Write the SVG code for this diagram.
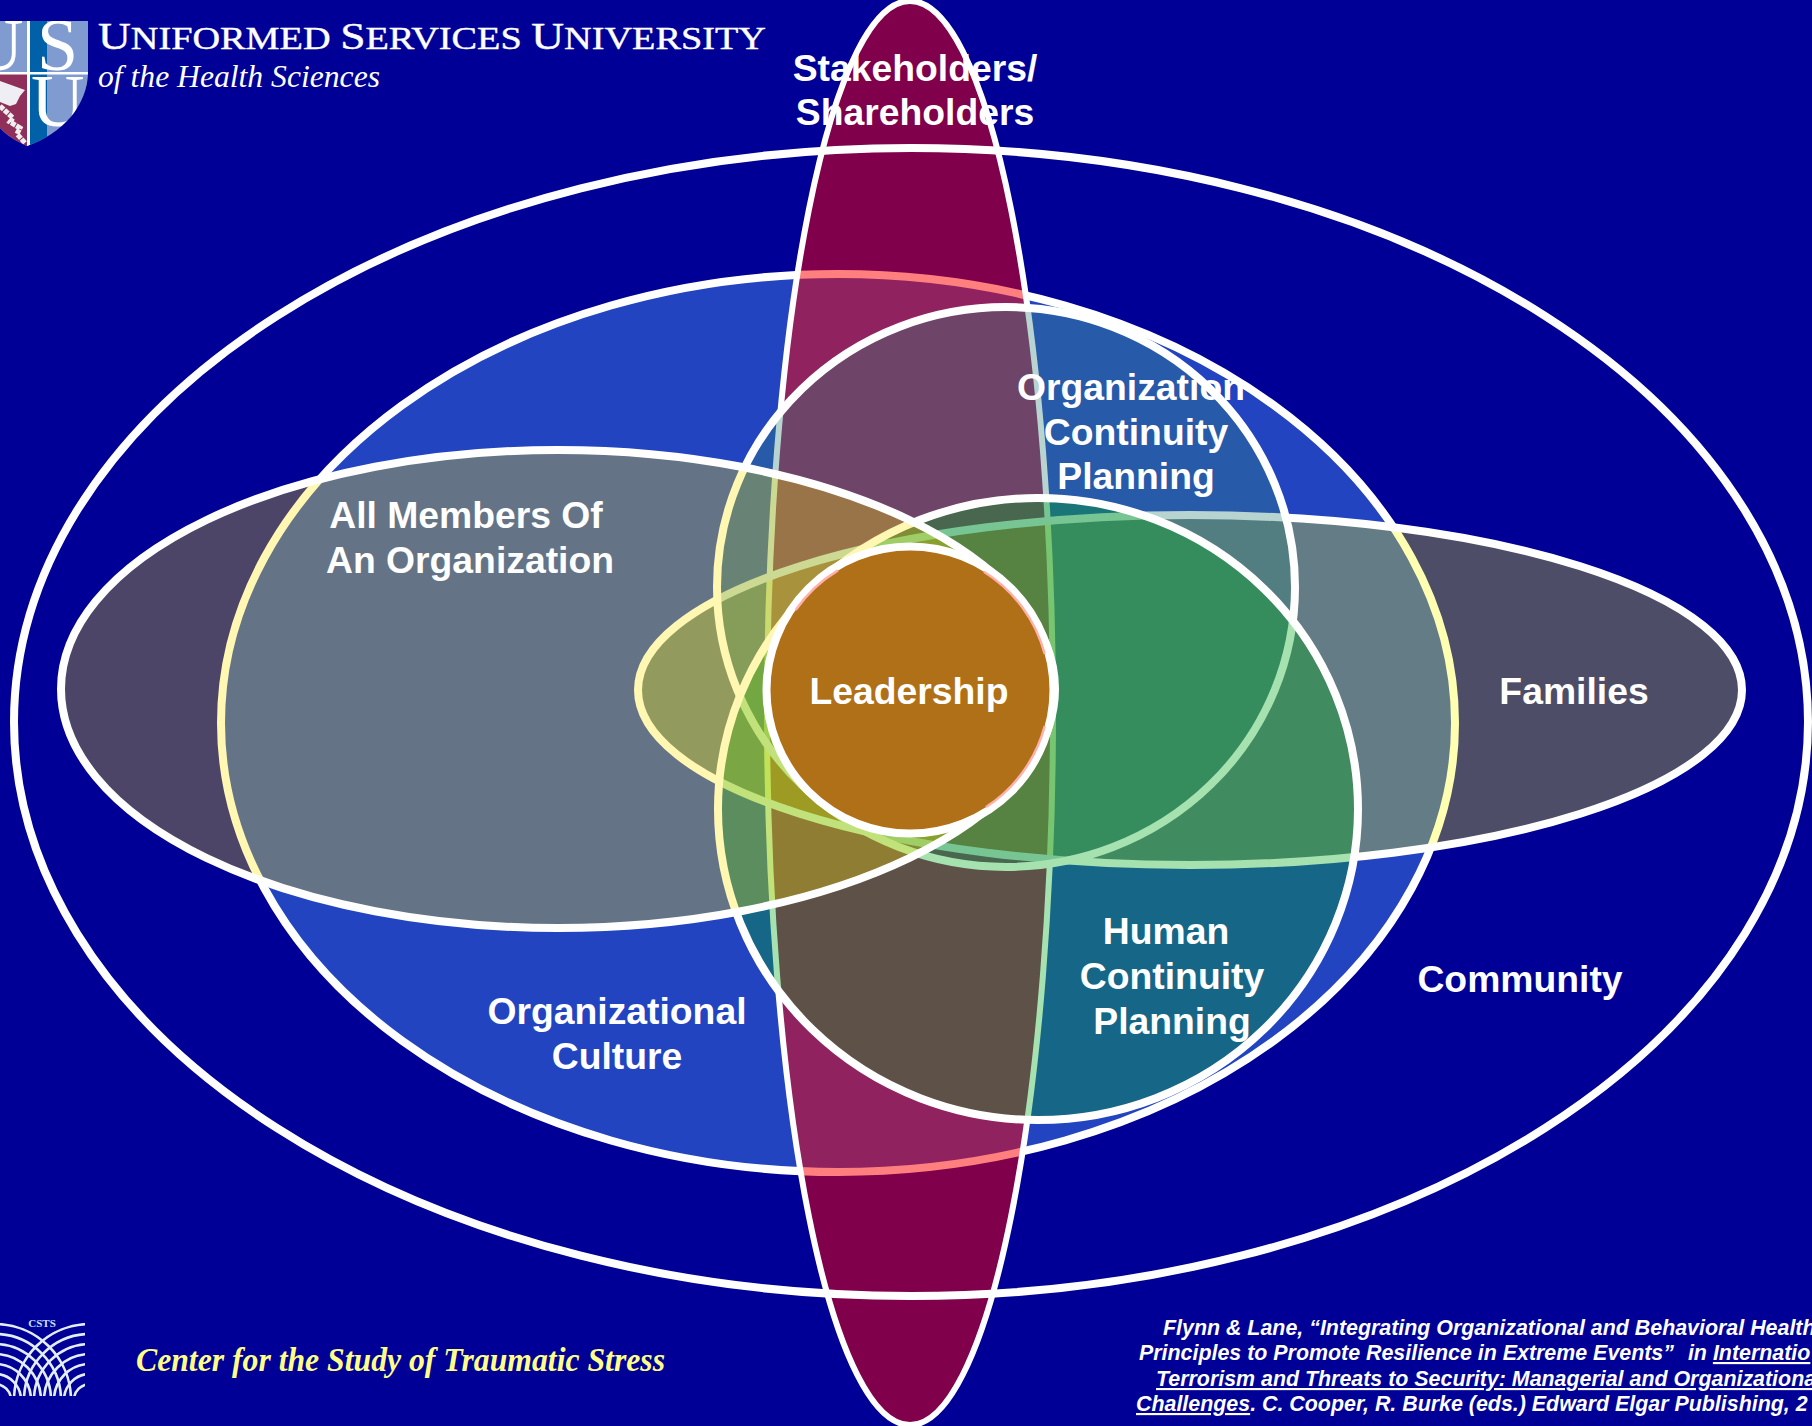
<svg xmlns="http://www.w3.org/2000/svg" width="1812" height="1426" viewBox="0 0 1812 1426">
<style>
.n{stroke:#fff;stroke-width:8}
.l{font-family:"Liberation Sans",Arial,sans-serif;font-weight:700;font-size:37.3px;fill:#fff;text-anchor:middle}
.f{font-family:"Liberation Sans",Arial,sans-serif;font-weight:700;font-style:italic;font-size:21.4px;fill:#fff}
.u{text-decoration:underline}
.s{font-family:"Liberation Serif","Times New Roman",serif;fill:#fff}
.a{fill:none;stroke:#e4eefa;stroke-width:2.6}
</style>
<defs>
<clipPath id="sh"><path d="M0 21H88V72C88 105 62 134 27 146C16 141 6 135 0 128Z"/></clipPath>
<clipPath id="cs"><rect x="0" y="1323" width="85" height="73"/></clipPath>
</defs>
<rect width="1812" height="1426" fill="#000096"/>
<g id="organizational-culture"><ellipse class="n" cx="838" cy="723" rx="617" ry="449" fill="#55aaff" fill-opacity=".4"/></g>
<g id="stakeholders"><ellipse class="n" cx="910" cy="713" rx="143" ry="712" fill="#f00" fill-opacity=".5" style="stroke-width:6"/></g>
<g id="community"><ellipse class="n" cx="911" cy="722" rx="897" ry="574" fill="none"/></g>
<g id="families"><ellipse class="n" cx="1190" cy="690" rx="552" ry="175" fill="#ff0" fill-opacity=".3"/></g>
<g id="organization-continuity"><ellipse class="n" cx="1006" cy="587" rx="289" ry="280" fill="#32847c" fill-opacity=".35"/></g>
<g id="human-continuity"><ellipse class="n" cx="1038" cy="809" rx="320" ry="311" fill="#00aa1e" fill-opacity=".35"/></g>
<g id="all-members"><ellipse class="n" cx="558" cy="689" rx="497" ry="239" fill="#ffe600" fill-opacity=".3"/></g>
<g id="leadership">
<circle class="n" cx="910" cy="690" r="143.5" fill="#b07018"/>
<path d="M983.9 571.7A139.5 139.5 0 0 1 1044.7 653.9M1044.7 726.1A139.5 139.5 0 0 1 986 807M795.7 610A139.5 139.5 0 0 1 838 570.4" fill="none" stroke="#ffb0a8" stroke-width="2.4"/>
</g>
<g id="labels">
<text class="l" x="915" y="81">Stakeholders/</text><text class="l" x="915" y="125">Shareholders</text>
<text class="l" x="1131" y="400">Organization</text><text class="l" x="1136" y="445">Continuity</text><text class="l" x="1136" y="489">Planning</text>
<text class="l" x="466" y="528">All Members Of</text><text class="l" x="470" y="573">An Organization</text>
<text class="l" x="909" y="704">Leadership</text>
<text class="l" x="1574" y="704">Families</text>
<text class="l" x="1520" y="992">Community</text>
<text class="l" x="617" y="1024">Organizational</text><text class="l" x="617" y="1069">Culture</text>
<text class="l" x="1166" y="944">Human</text><text class="l" x="1172" y="989">Continuity</text><text class="l" x="1172" y="1034">Planning</text>
</g>
<g id="usu-logo">
<g clip-path="url(#sh)">
<rect width="88" height="150" fill="#7f9bd0"/>
<rect x="28" y="21" width="19" height="130" fill="#0060a8"/>
<rect x="0" y="74" width="27" height="80" fill="#90305a"/>
<rect x="0" y="72" width="88" height="2.5" fill="#fff"/>
<rect x="27" y="21" width="3" height="130" fill="#fff"/>
<path d="M0 81L25 90L20 96L16 104L10 106L0 102Z" fill="#eeeef4"/>
<path d="M0 106L13 118L10 122L20 128L17 134L25 143" fill="none" stroke="#eee" stroke-width="5" stroke-dasharray="5 1"/>
<text class="s" x="-30" y="70" font-size="74">U</text>
<text class="s" x="37" y="70" font-size="74">S</text>
<text class="s" x="31" y="126" font-size="74">U</text>
</g>
</g>
<g id="usu-title" style="stroke:#fff;stroke-width:.4">
<text class="s" x="98" y="49" font-size="32" textLength="668" lengthAdjust="spacingAndGlyphs"><tspan font-size="38">U</tspan>NIFORMED <tspan font-size="38">S</tspan>ERVICES <tspan font-size="38">U</tspan>NIVERSITY</text>
<text class="s" x="98" y="87" font-size="32" font-style="italic" textLength="282" lengthAdjust="spacingAndGlyphs" style="stroke-width:0">of the Health Sciences</text>
</g>
<g id="csts-logo">
<g clip-path="url(#cs)">
<circle class="a" cx="90" cy="1400" r="76"/><circle class="a" cx="90" cy="1400" r="66"/><circle class="a" cx="90" cy="1400" r="56"/><circle class="a" cx="90" cy="1400" r="46"/><circle class="a" cx="90" cy="1400" r="36"/><circle class="a" cx="90" cy="1400" r="26"/><circle class="a" cx="90" cy="1400" r="16"/>
<circle class="a" cx="-5" cy="1400" r="76"/><circle class="a" cx="-5" cy="1400" r="66"/><circle class="a" cx="-5" cy="1400" r="56"/><circle class="a" cx="-5" cy="1400" r="46"/><circle class="a" cx="-5" cy="1400" r="36"/><circle class="a" cx="-5" cy="1400" r="26"/><circle class="a" cx="-5" cy="1400" r="16"/>
</g>
<text class="s" x="42" y="1327" font-size="11" font-weight="700" text-anchor="middle" style="fill:#cfe0f5">CSTS</text>
</g>
<g id="csts-title"><text x="136" y="1371" font-family="Liberation Serif,serif" font-style="italic" font-weight="700" font-size="33" fill="#ffff88" textLength="529" lengthAdjust="spacingAndGlyphs">Center for the Study of Traumatic Stress</text></g>
<g id="citation">
<text class="f" x="1163" y="1335">Flynn &amp; Lane, “Integrating Organizational and Behavioral Health</text>
<text class="f" x="1139" y="1360">Principles to Promote Resilience in Extreme Events”  <tspan dx="8">in</tspan> <tspan class="u">Internatio</tspan></text>
<text class="f" x="1156" y="1386"><tspan class="u">Terrorism and Threats to Security: Managerial and Organizationa</tspan></text>
<text class="f" x="1136" y="1411"><tspan class="u">Challenges</tspan>. C. Cooper, R. Burke (eds.) Edward Elgar Publishing, 2</text>
</g>
</svg>
